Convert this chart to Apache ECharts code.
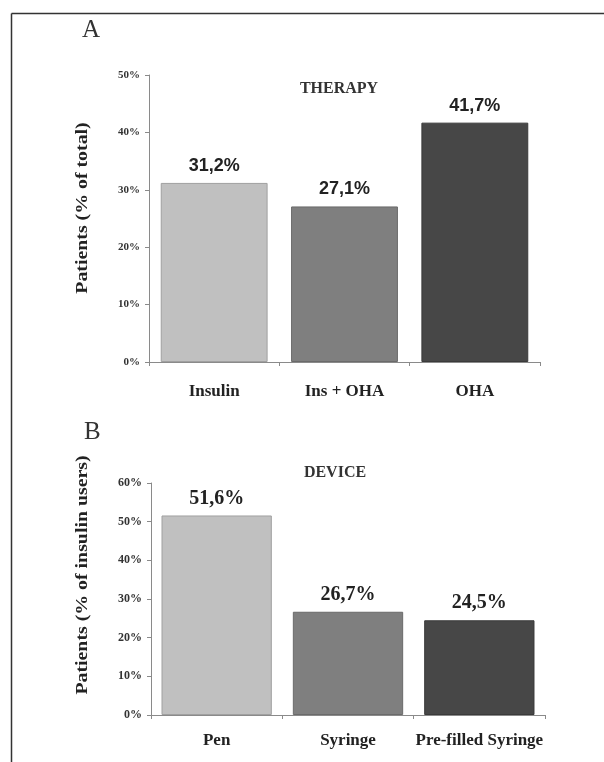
<!DOCTYPE html>
<html>
<head>
<meta charset="utf-8">
<script src="https://cdn.jsdelivr.net/npm/echarts@6/dist/echarts.min.js"></script>
<style>
html,body{margin:0;padding:0;background:#fff;}
#c{width:604px;height:762px;}
</style>
</head>
<body>
<div id="c"></div>
<script>
// Panel A: therapy
var therapyCategories = ['Insulin', 'Ins + OHA', 'OHA'];
var therapyValues = [31.2, 27.1, 41.7];
var therapyTicks = [0, 10, 20, 30, 40, 50];
// Panel B: device
var deviceCategories = ['Pen', 'Syringe', 'Pre-filled Syringe'];
var deviceValues = [51.6, 26.7, 24.5];
var deviceTicks = [0, 10, 20, 30, 40, 50, 60];

var barColors = ['#c0c0c0', '#7f7f7f', '#474747'];
var barBorders = ['#a0a0a0', '#6a6a6a', '#3a3a3a'];
var serif = '"Liberation Serif", "DejaVu Serif", serif';
var sans = '"Liberation Sans", Arial, sans-serif';

function fmt(v) { return v.toFixed(1).replace('.', ',') + '%'; }

function barData(vals) {
  return vals.map(function (v, i) {
    return { value: v, itemStyle: { color: barColors[i], borderColor: barBorders[i], borderWidth: 1 } };
  });
}

var axisLineStyle = { lineStyle: { color: '#8a8a8a', width: 1 } };

var chart = echarts.init(document.getElementById('c'), null, { renderer: 'canvas' });
chart.setOption({
  animation: false,
  backgroundColor: '#fff',
  grid: [
    { left: 149, top: 75, width: 391, height: 287 },
    { left: 151, top: 483, width: 394, height: 232 }
  ],
  xAxis: [
    {
      type: 'category', gridIndex: 0, data: therapyCategories,
      axisLine: axisLineStyle,
      axisTick: { show: true, inside: false, length: 4, lineStyle: { color: '#8a8a8a' } },
      axisLabel: { interval: 0, margin: 21, color: '#222', fontFamily: serif, fontWeight: 'bold', fontSize: 17 }
    },
    {
      type: 'category', gridIndex: 1, data: deviceCategories,
      axisLine: axisLineStyle,
      axisTick: { show: true, length: 4, lineStyle: { color: '#8a8a8a' } },
      axisLabel: { interval: 0, margin: 17, color: '#222', fontFamily: serif, fontWeight: 'bold', fontSize: 17 }
    }
  ],
  yAxis: [
    {
      type: 'value', gridIndex: 0, min: therapyTicks[0], max: therapyTicks[therapyTicks.length - 1], interval: 10,
      axisLine: { show: true, lineStyle: { color: '#8a8a8a' } },
      axisTick: { show: true, length: 4, lineStyle: { color: '#8a8a8a' } },
      splitLine: { show: false },
      axisLabel: { margin: 9, color: '#333', fontFamily: serif, fontWeight: 'bold', fontSize: 11, formatter: '{value}%' }
    },
    {
      type: 'value', gridIndex: 1, min: deviceTicks[0], max: deviceTicks[deviceTicks.length - 1], interval: 10,
      axisLine: { show: true, lineStyle: { color: '#8a8a8a' } },
      axisTick: { show: true, length: 4, lineStyle: { color: '#8a8a8a' } },
      splitLine: { show: false },
      axisLabel: { margin: 9, color: '#333', fontFamily: serif, fontWeight: 'bold', fontSize: 12, formatter: '{value}%' }
    }
  ],
  series: [
    {
      type: 'bar', xAxisIndex: 0, yAxisIndex: 0, data: barData(therapyValues),
      barCategoryGap: '18%',
      label: { show: true, position: 'top', distance: 8, formatter: function (p) { return fmt(p.value); },
        fontFamily: sans, fontWeight: 'bold', fontSize: 18, color: '#222' }
    },
    {
      type: 'bar', xAxisIndex: 1, yAxisIndex: 1, data: barData(deviceValues),
      barCategoryGap: '16%',
      label: { show: true, position: 'top', distance: 7, formatter: function (p) { return fmt(p.value); },
        fontFamily: serif, fontWeight: 'bold', fontSize: 20, color: '#222' }
    }
  ],
  graphic: [
    { type: 'line', shape: { x1: 11.5, y1: 13.5, x2: 604, y2: 13.5 }, style: { stroke: '#333', lineWidth: 1.5 } },
    { type: 'line', shape: { x1: 11.5, y1: 13.5, x2: 11.5, y2: 762 }, style: { stroke: '#333', lineWidth: 1.5 } },
    { type: 'text', left: 82, top: 18, style: { text: 'A', font: '25px ' + serif, fill: '#333' } },
    { type: 'text', left: 84, top: 420, style: { text: 'B', font: '25px ' + serif, fill: '#333' } },
    { type: 'text', x: 339, y: 89, style: { text: 'THERAPY', font: 'bold 16px ' + serif, fill: '#333', textAlign: 'center', textVerticalAlign: 'middle' } },
    { type: 'text', x: 335, y: 473, style: { text: 'DEVICE', font: 'bold 16px ' + serif, fill: '#333', textAlign: 'center', textVerticalAlign: 'middle' } },
    { type: 'text', x: 83, y: 208, rotation: Math.PI / 2, scaleX: 1.24, style: { text: 'Patients (% of total)', font: 'bold 16px ' + serif, fill: '#222', textAlign: 'center', textVerticalAlign: 'middle' } },
    { type: 'text', x: 83, y: 575, rotation: Math.PI / 2, scaleX: 1.24, style: { text: 'Patients (% of insulin users)', font: 'bold 16px ' + serif, fill: '#222', textAlign: 'center', textVerticalAlign: 'middle' } }
  ]
});
</script>
</body>
</html>
